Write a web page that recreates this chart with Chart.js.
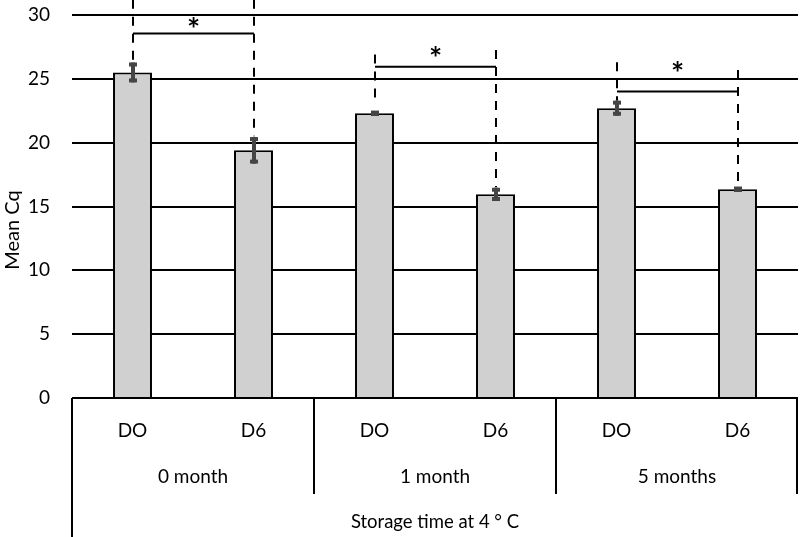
<!DOCTYPE html>
<html>
<head>
<meta charset="utf-8">
<script src="https://cdn.jsdelivr.net/npm/chart.js@4.4.1/dist/chart.umd.min.js"></script>
<style>
  html, body { margin: 0; padding: 0; background: #fff; }
  #wrap { width: 800px; height: 537px; position: relative; }
</style>
</head>
<body>
<div id="wrap"><canvas id="cqChart"></canvas></div>
<script>
const categories = ['DO', 'D6', 'DO', 'D6', 'DO', 'D6'];
const groups = ['0 month', '1 month', '5 months'];
const meanCq = [25.5, 19.4, 22.3, 15.95, 22.7, 16.35];
const errCq = [0.78, 1.04, 0.1, 0.52, 0.59, 0.1];
const yTicks = [0, 5, 10, 15, 20, 25, 30];
const xTitle = 'Storage time at 4 ° C';
const yTitle = 'Mean Cq';

// significance marks: bar pairs, bracket level, top/bottom of dashed lines, star level
const sigPairs = [[0, 1], [2, 3], [4, 5]];
const bracketLevel = [28.55, 25.95, 24.0];
const dashTop = [[31.2, 31.2], [26.9, 27.25], [26.3, 25.7]];
const dashBottom = [26.3, 20.5, 23.4, 16.5, 23.3, 16.9];
const starLevel = [29.4, 27.1, 25.9];

const FONT = 'Lato, "Open Sans", sans-serif';

const extrasPlugin = {
  id: 'extras',
  afterDatasetsDraw(chart) {
    const ctx = chart.ctx;
    const x = chart.scales.x, y = chart.scales.y;
    const area = chart.chartArea;
    ctx.save();

    // error bars
    ctx.fillStyle = '#454545';
    meanCq.forEach((v, i) => {
      const cx = Math.round(x.getPixelForValue(i));
      const top = y.getPixelForValue(v + errCq[i]);
      const bot = y.getPixelForValue(v - errCq[i]);
      ctx.fillRect(cx - 2, top, 4, bot - top);
      ctx.fillRect(cx - 4, top, 8, 4);
      ctx.fillRect(cx - 4, bot - 4, 8, 4);
    });

    // dashed lines, brackets, stars
    ctx.strokeStyle = '#000';
    ctx.lineWidth = 2;
    sigPairs.forEach((pair, p) => {
      ctx.setLineDash([9, 8]);
      pair.forEach((idx, k) => {
        const cx = Math.round(x.getPixelForValue(idx));
        ctx.beginPath();
        ctx.moveTo(cx, y.getPixelForValue(dashTop[p][k]));
        ctx.lineTo(cx, y.getPixelForValue(dashBottom[idx]));
        ctx.stroke();
      });
      ctx.setLineDash([]);
      const x0 = Math.round(x.getPixelForValue(pair[0]));
      const x1 = Math.round(x.getPixelForValue(pair[1]));
      const by = y.getPixelForValue(bracketLevel[p]);
      ctx.beginPath();
      ctx.moveTo(x0, by);
      ctx.lineTo(x1, by);
      ctx.stroke();
      ctx.fillStyle = '#000';
      ctx.font = 'bold 31px ' + FONT;
      ctx.textAlign = 'center';
      ctx.textBaseline = 'middle';
      ctx.fillText('*', (x0 + x1) / 2, y.getPixelForValue(starLevel[p]) + 7);
    });

    // category table under the axis
    ctx.beginPath();
    ctx.moveTo(area.left, area.bottom);
    ctx.lineTo(area.left, chart.height);
    for (let g = 1; g < groups.length; g++) {
      const sx = Math.round((x.getPixelForValue(2 * g - 1) + x.getPixelForValue(2 * g)) / 2);
      ctx.moveTo(sx, area.bottom);
      ctx.lineTo(sx, 494);
    }
    ctx.moveTo(area.right - 1, area.bottom);
    ctx.lineTo(area.right - 1, 494);
    ctx.stroke();

    ctx.fillStyle = '#000';
    ctx.font = '19px ' + FONT;
    ctx.textAlign = 'center';
    ctx.textBaseline = 'middle';
    categories.forEach((c, i) => {
      ctx.fillText(c, x.getPixelForValue(i), 431);
    });
    groups.forEach((g, i) => {
      const gx = (x.getPixelForValue(2 * i) + x.getPixelForValue(2 * i + 1)) / 2;
      ctx.fillText(g, gx, 477);
    });
    ctx.font = '18.5px ' + FONT;
    ctx.fillText(xTitle, (area.left + area.right) / 2, 522);

    ctx.font = '20px ' + FONT;
    ctx.translate(13, 230);
    ctx.rotate(-Math.PI / 2);
    ctx.fillText(yTitle, 0, 0);
    ctx.restore();
  }
};

const ctx = document.getElementById('cqChart').getContext('2d');
const chart = new Chart(ctx, {
  type: 'bar',
  data: {
    labels: categories,
    datasets: [{
      data: meanCq,
      backgroundColor: '#d0d0d0',
      borderColor: '#000',
      borderWidth: 2,
      barPercentage: 0.322,
      categoryPercentage: 1
    }]
  },
  options: {
    responsive: true,
    maintainAspectRatio: false,
    animation: false,
    layout: { padding: { top: 15, right: 2, bottom: 139, left: 0 } },
    plugins: {
      legend: { display: false },
      tooltip: { enabled: false }
    },
    scales: {
      x: { display: false },
      y: {
        min: 0,
        max: 30,
        afterBuildTicks: scale => { scale.ticks = yTicks.map(v => ({ value: v })); },
        afterFit: scale => {
          scale.width = 72;
          scale.paddingTop = 0;
          scale.paddingBottom = 0;
        },
        ticks: { color: '#000', font: { family: FONT, size: 19 }, padding: 22 },
        grid: { color: '#000', lineWidth: 2, drawTicks: false },
        border: { display: false }
      }
    }
  },
  plugins: [extrasPlugin]
});
</script>
</body>
</html>
